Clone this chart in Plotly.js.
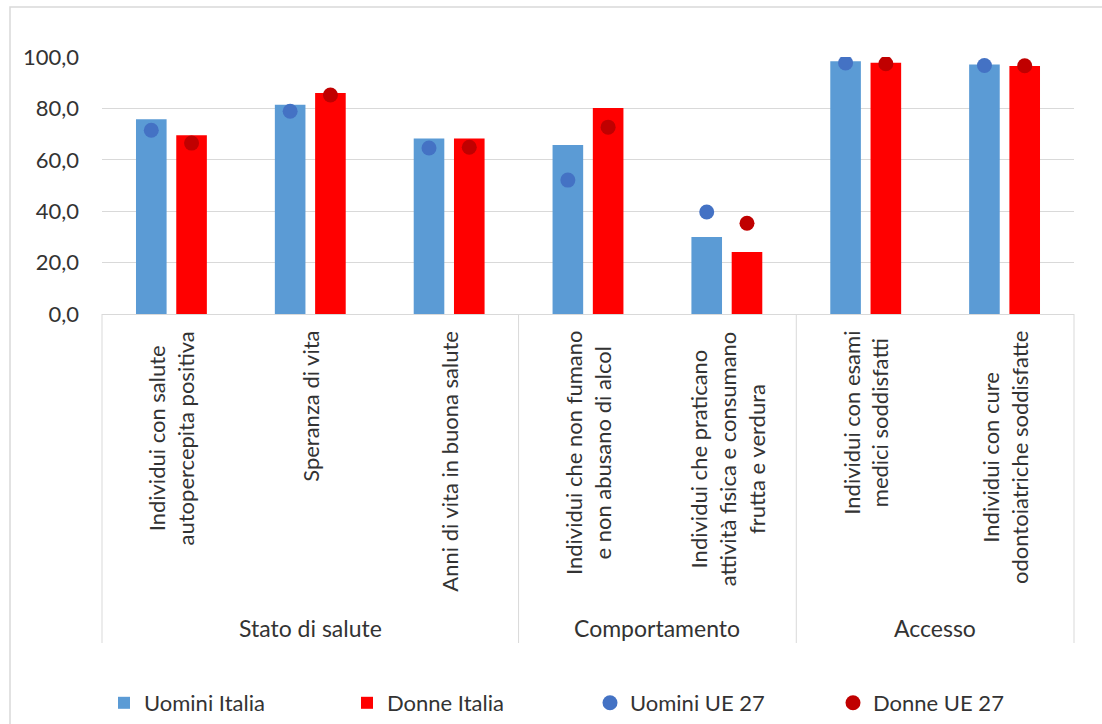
<!DOCTYPE html>
<html>
<head>
<meta charset="utf-8">
<script src="https://cdn.plot.ly/plotly-3.0.1.min.js"></script>
<style>
html,body{margin:0;padding:0;background:#fff;}
#chart{width:1102px;height:724px;}
</style>
</head>
<body>
<div id="chart"></div>
<script>
// ---- data ----
const categories = [
  "Individui con salute autopercepita positiva",
  "Speranza di vita",
  "Anni di vita in buona salute",
  "Individui che non fumano e non abusano di alcol",
  "Individui che praticano attività fisica e consumano frutta e verdura",
  "Individui con esami medici soddisfatti",
  "Individui con cure odontoiatriche soddisfatte"
];
const categoryLabels = [
  "Individui con salute<br>autopercepita positiva",
  "Speranza di vita",
  "Anni di vita in buona salute",
  "Individui che non fumano<br>e non abusano di alcol",
  "Individui che praticano<br>attività fisica e consumano<br>frutta e verdura",
  "Individui con esami<br>medici soddisfatti",
  "Individui con cure<br>odontoiatriche soddisfatte"
];
const groupNames = ["Stato di salute", "Comportamento", "Accesso"];
const groupSizes = [3, 2, 2];

const uominiItalia = [75.8, 81.4, 68.3, 65.8, 30.0, 98.3, 97.1];
const donneItalia  = [69.6, 86.0, 68.3, 80.2, 24.1, 97.8, 96.5];
const uominiUE27   = [71.5, 78.9, 64.6, 52.1, 39.7, 97.7, 96.7];
const donneUE27    = [66.5, 85.2, 64.9, 72.7, 35.3, 97.4, 96.6];

const seriesNames = ["Uomini Italia", "Donne Italia", "Uomini UE 27", "Donne UE 27"];

// ---- layout helpers ----
const W = 1102, H = 724;
const M = {l: 102, r: 28, t: 57, b: 410, autoexpand: false};
const plotW = W - M.l - M.r, plotH = H - M.t - M.b;
const px = x => (x - M.l) / plotW;
const py = y => (H - M.b - y) / plotH;
const FONT = "Lato, 'Open Sans', sans-serif";
const TXT = "#333333";
const GRID = "#D9D9D9";
const nCat = categories.length;

const traces = [
  {type: "bar", name: seriesNames[0], x: categories, y: uominiItalia,
   marker: {color: "#5B9BD5"}, offsetgroup: "u"},
  {type: "bar", name: seriesNames[1], x: categories, y: donneItalia,
   marker: {color: "#FF0000"}, offsetgroup: "d"},
  {type: "scatter", mode: "markers", name: seriesNames[2], x: categories, y: uominiUE27,
   marker: {color: "#4472C4", size: 15}, offsetgroup: "u"},
  {type: "scatter", mode: "markers", name: seriesNames[3], x: categories, y: donneUE27,
   marker: {color: "#C00000", size: 15}, offsetgroup: "d"}
];

const annotations = [];
categoryLabels.forEach((t, i) => {
  annotations.push({
    xref: "x", yref: "paper", x: i, y: py(329),
    xanchor: "center", yanchor: "top", textangle: -90, align: "center",
    text: t, showarrow: false, font: {family: FONT, size: 22, color: TXT}
  });
});
const shapes = [];
let start = 0;
groupNames.forEach((g, k) => {
  const size = groupSizes[k];
  annotations.push({
    xref: "paper", yref: "paper", x: (start + size / 2) / nCat, y: py(628),
    xanchor: "center", yanchor: "middle", text: g, showarrow: false,
    font: {family: FONT, size: 23, color: TXT}
  });
  start += size;
});
// group dividers
let b = 0;
[0].concat(groupSizes).forEach(s => {
  b += s;
  shapes.push({type: "line", xref: "paper", yref: "paper",
    x0: b / nCat, x1: b / nCat, y0: 0, y1: py(643),
    line: {color: GRID, width: 1}});
});
// chart area border
shapes.push({type: "rect", xref: "paper", yref: "paper",
  x0: px(10), x1: px(1120), y0: py(740), y1: py(7),
  line: {color: GRID, width: 1.5}, fillcolor: "rgba(0,0,0,0)"});

const layout = {
  width: W, height: H,
  margin: M,
  paper_bgcolor: "#fff", plot_bgcolor: "#fff",
  separators: ",.",
  barmode: "group", bargap: 0.42, bargroupgap: 0.24,
  scattermode: "group", scattergap: 0.42,
  showlegend: true,
  legend: {orientation: "h", x: px(104), y: py(682), xanchor: "left", yanchor: "top",
    entrywidth: 198, entrywidthmode: "pixels", traceorder: "normal",
    font: {family: FONT, size: 22, color: TXT}},
  xaxis: {type: "category", showticklabels: false, showgrid: false,
    showline: true, linecolor: GRID, linewidth: 1, ticks: "", zeroline: false,
    range: [-0.5, nCat - 0.5], fixedrange: true},
  yaxis: {range: [0, 100], dtick: 20, tickformat: ".1f", showgrid: true, gridcolor: GRID,
    gridwidth: 1, zeroline: false, showline: false, ticks: "", ticklabelstandoff: 22,
    tickfont: {family: FONT, size: 22, color: TXT}, fixedrange: true},
  annotations: annotations,
  shapes: shapes,
  font: {family: FONT, color: TXT},
  hovermode: false
};

Plotly.newPlot("chart", traces, layout, {displayModeBar: false, staticPlot: true});
</script>
</body>
</html>
